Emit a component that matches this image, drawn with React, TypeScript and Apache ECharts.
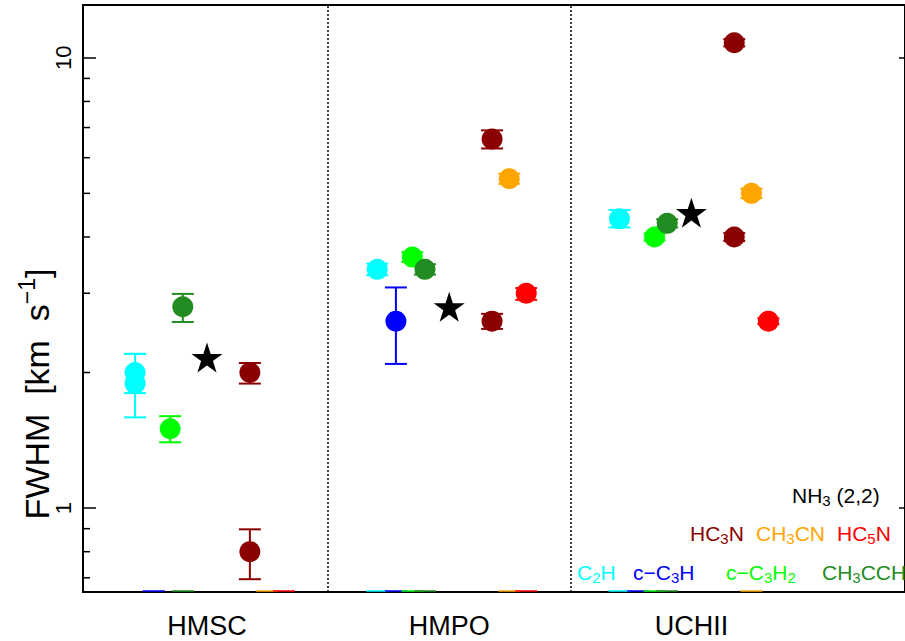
import React, { useEffect, useRef } from 'react';
import * as echarts from 'echarts';

const categories = ['HMSC', 'HMPO', 'UCHII'];
const categoryPositions = [1, 2, 3];
const dividerPositions = [1.5, 2.5];

const speciesNames = ['C2H', 'c-C3H', 'c-C3H2', 'CH3CCH', 'NH3 (2,2)', 'HC3N', 'CH3CN', 'HC5N'];
const speciesColors = ['#00ffff', '#0000ff', '#00ff00', '#228b22', '#000000', '#8b0000', '#ffa500', '#ff0000'];
const speciesOffsets = [-0.297, -0.22, -0.152, -0.1, 0, 0.177, 0.248, 0.318];

// [categoryIndex, FWHM (km/s), lower, upper]
const c2h = [[0, 2.0, 1.8, 2.2], [0, 1.89, 1.59, 2.2], [1, 3.39, 3.29, 3.49], [2, 4.39, 4.2, 4.59]];
const cC3H = [[1, 2.6, 2.09, 3.09]];
const cC3H2 = [[0, 1.5, 1.4, 1.6], [1, 3.61, 3.52, 3.7], [2, 4.0, 3.93, 4.07]];
const ch3cch = [[0, 2.8, 2.59, 2.99], [1, 3.39, 3.3, 3.48], [2, 4.29, 4.2, 4.38]];
const nh3 = [[0, 2.16], [1, 2.8], [2, 4.53]];
const hc3n = [[0, 2.0, 1.89, 2.1], [0, 0.8, 0.695, 0.897], [1, 6.6, 6.29, 6.9], [1, 2.6, 2.5, 2.7], [2, 10.8, 10.6, 11.0], [2, 4.0, 3.92, 4.08]];
const ch3cn = [[1, 5.39, 5.25, 5.53], [2, 5.0, 4.88, 5.12]];
const hc5n = [[1, 3.0, 2.9, 3.08], [2, 2.6, 2.56, 2.64]];

const speciesData = [c2h, cC3H, cC3H2, ch3cch, nh3, hc3n, ch3cn, hc5n];

// [categoryIndex, speciesIndex] of error caps clipped at the bottom of the axis
const clippedCaps = [
  [0, 1], [0, 3], [0, 6], [0, 7],
  [1, 0], [1, 1], [1, 2], [1, 3], [1, 6], [1, 7],
  [2, 0], [2, 1], [2, 2], [2, 3], [2, 6],
];

const Y_MIN = 0.651;
const Y_MAX = 13.1;
const X_MIN = 0.488;
const X_MAX = 3.882;
const yMinorTicks = [0.7, 0.8, 0.9, 2, 3, 4, 5, 6, 7, 8, 9];

const FONT = 'Liberation Sans';
const STAR = 'path://M100,0 L122.45,69.1 L195.1,69.1 L136.33,111.8 L158.8,180.9 L100,138.2 L41.2,180.9 L63.67,111.8 L4.9,69.1 L77.55,69.1 Z';

function chem(formula: string) {
  let out = '';
  let prevSub = false;
  let prev = '';
  for (const ch of formula) {
    const isDigit = /[0-9]/.test(ch);
    const sub = isDigit && (/[A-Za-z]/.test(prev) || (prevSub && /[0-9]/.test(prev)));
    out += sub ? `{s|${ch}}` : `{m|${ch}}`;
    prevSub = sub;
    prev = ch;
  }
  return out;
}

const richFor = (color: string) => ({
  m: { fill: color, fontSize: 21, fontFamily: FONT, lineHeight: 26, verticalAlign: 'middle' },
  s: { fill: color, fontSize: 15, fontFamily: FONT, lineHeight: 15, verticalAlign: 'bottom' },
});

const legendItems = [
  { text: 'NH3 (2,2)', color: '#000000', x: 792, y: 495 },
  { text: 'HC3N', color: '#8b0000', x: 690, y: 533 },
  { text: 'CH3CN', color: '#ffa500', x: 756, y: 533 },
  { text: 'HC5N', color: '#ff0000', x: 837, y: 533 },
  { text: 'C2H', color: '#00ffff', x: 577, y: 572 },
  { text: 'c\u2212C3H', color: '#0000ff', x: 633, y: 572 },
  { text: 'c\u2212C3H2', color: '#00ff00', x: 726, y: 572 },
  { text: 'CH3CCH', color: '#228b22', x: 822, y: 572 },
];

export default function App() {
  const ref = useRef<HTMLDivElement>(null);
  useEffect(() => {
    if (!ref.current) return;
    const chart = echarts.init(ref.current, null, { renderer: 'svg' });

    const errData: any[] = [];
    speciesData.forEach((arr, si) => {
      arr.forEach((d) => {
        if (d.length >= 4) {
          errData.push([categoryPositions[d[0]] + speciesOffsets[si], d[1], d[2], d[3], si]);
        }
      });
    });

    const capData = clippedCaps.map(([ci, si]) => [categoryPositions[ci] + speciesOffsets[si], Y_MIN, si]);

    const pointSeries = speciesData.map((arr, si) => ({
      type: 'scatter',
      name: speciesNames[si],
      data: arr.map((d) => [categoryPositions[d[0]] + speciesOffsets[si], d[1]]),
      symbol: si === 4 ? STAR : 'circle',
      symbolSize: si === 4 ? [31, 30] : 21,
      itemStyle: { color: speciesColors[si], opacity: 1 },
      z: si === 4 ? 6 : 4,
      silent: true,
    }));

    const option: any = {
      animation: false,
      backgroundColor: '#ffffff',
      grid: {
        left: 83, top: 5, width: 823, height: 587,
        show: true, borderColor: '#000', borderWidth: 2, backgroundColor: 'transparent',
      },
      xAxis: {
        type: 'value', min: X_MIN, max: X_MAX,
        axisLine: { show: false }, axisTick: { show: false }, splitLine: { show: false },
        axisLabel: {
          customValues: categoryPositions,
          formatter: (v: number) => {
            const i = categoryPositions.indexOf(v);
            return i >= 0 ? categories[i] : '';
          },
          fontSize: 27, fontFamily: FONT, color: '#000', margin: 20,
          hideOverlap: false,
        },
      },
      yAxis: [
        {
          type: 'log', logBase: 10, min: Y_MIN, max: Y_MAX, position: 'left',
          axisLine: { show: false },
          axisTick: { show: true, inside: true, length: 13, lineStyle: { color: '#000', width: 1.5 } },
          splitLine: { show: false },
          axisLabel: {
            rotate: 90, fontSize: 22, fontFamily: FONT, color: '#000', margin: 9,
            showMinLabel: false, showMaxLabel: false,
            formatter: (v: number) => String(Math.round(v)),
          },
        },
        {
          type: 'log', logBase: 10, min: Y_MIN, max: Y_MAX, position: 'right',
          axisLine: { show: false },
          axisTick: { show: true, inside: true, length: 6, lineStyle: { color: '#000', width: 1.5 } },
          splitLine: { show: false },
          axisLabel: { show: false },
        },
      ],
      graphic: [
        {
          type: 'text', x: 37, y: 394, rotation: Math.PI / 2,
          style: {
            text: '{m|FWHM  [km  s}{p|\u22121}{m|]}',
            align: 'center', verticalAlign: 'middle',
            rich: {
              m: { fill: '#000', fontSize: 34, fontFamily: FONT, lineHeight: 44, verticalAlign: 'middle' },
              p: { fill: '#000', fontSize: 23, fontFamily: FONT, lineHeight: 23, verticalAlign: 'top' },
            },
          },
        },
        ...legendItems.map((it) => ({
          type: 'text', x: it.x, y: it.y,
          style: {
            text: chem(it.text),
            align: 'left', verticalAlign: 'middle',
            rich: richFor(it.color),
          },
        })),
      ],
      series: [
        {
          type: 'custom',
          name: 'minorTicks',
          silent: true,
          data: yMinorTicks.map((v) => [X_MIN, v]),
          encode: { x: 0, y: 1 },
          renderItem: (params: any, api: any) => {
            const p = api.coord([api.value(0), api.value(1)]);
            return {
              type: 'line',
              shape: { x1: p[0], y1: p[1], x2: p[0] + 7, y2: p[1] },
              style: { stroke: '#000', lineWidth: 1.5 },
            };
          },
          z: 3,
        },
        {
          type: 'custom',
          name: 'clippedCaps',
          silent: true,
          data: capData,
          encode: { x: 0, y: 1 },
          renderItem: (params: any, api: any) => {
            const p = api.coord([api.value(0), api.value(1)]);
            const c = speciesColors[api.value(2)];
            return {
              type: 'line',
              shape: { x1: p[0] - 11, y1: p[1] - 1, x2: p[0] + 11, y2: p[1] - 1 },
              style: { stroke: c, lineWidth: 2, opacity: 0.75 },
            };
          },
          z: 3,
        },
        {
          type: 'custom',
          name: 'errors',
          silent: true,
          data: errData,
          encode: { x: 0, y: 1 },
          renderItem: (params: any, api: any) => {
            const x = api.value(0);
            const lo = api.coord([x, api.value(2)]);
            const hi = api.coord([x, api.value(3)]);
            const color = speciesColors[api.value(4)];
            const style = { stroke: color, lineWidth: 2 };
            const hw = 11;
            return {
              type: 'group',
              children: [
                { type: 'line', shape: { x1: lo[0], y1: lo[1], x2: hi[0], y2: hi[1] }, style },
                { type: 'line', shape: { x1: lo[0] - hw, y1: lo[1], x2: lo[0] + hw, y2: lo[1] }, style },
                { type: 'line', shape: { x1: hi[0] - hw, y1: hi[1], x2: hi[0] + hw, y2: hi[1] }, style },
              ],
            };
          },
          z: 3,
        },
        ...pointSeries,
        {
          type: 'scatter',
          name: 'dividers',
          data: [],
          markLine: {
            silent: true,
            symbol: 'none',
            label: { show: false },
            lineStyle: { color: '#000', type: [2, 2], width: 1.5 },
            data: dividerPositions.map((v) => ({ xAxis: v })),
          },
        },
      ],
    };
    chart.setOption(option);
    return () => chart.dispose();
  }, []);

  return <div ref={ref} style={{ position: 'absolute', left: 0, top: 0, width: 905, height: 641 }} />;
}
